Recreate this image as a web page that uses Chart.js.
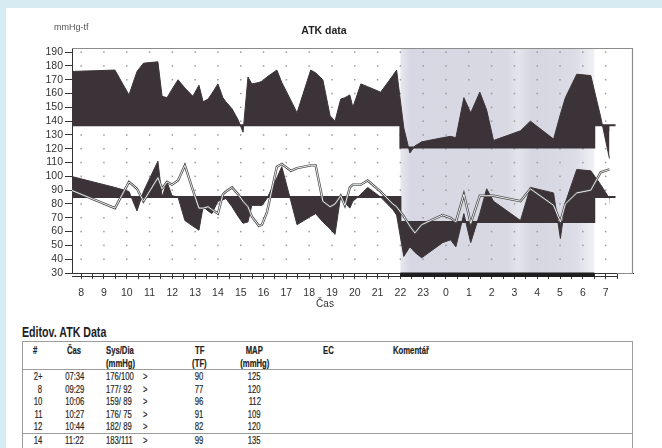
<!DOCTYPE html>
<html lang="cs">
<head>
<meta charset="utf-8">
<title>ATK data</title>
<script src="https://cdn.jsdelivr.net/npm/chart.js@4.4.1/dist/chart.umd.min.js"></script>
<style>
  html, body { margin: 0; padding: 0; }
  body { width: 662px; height: 448px; background: #d7ebf2; position: relative; overflow: hidden; font-family: "Liberation Sans", Arial, sans-serif; }
  #list { position: absolute; left: 6px; top: 8px; right: 0; bottom: 0; background: #fff; }
  #graf { position: absolute; left: 0; top: 0; width: 662px; height: 312px; }
  #nadpis { position: absolute; left: 22px; top: 325px; font: bold 14px/15px "Liberation Sans", Arial, sans-serif; color: #1e1e1e;
            transform: scaleX(0.76); transform-origin: left center; white-space: nowrap; }
  #tab { position: absolute; left: 22px; top: 341px; width: 611px; border-collapse: collapse; table-layout: fixed;
         border: 1px solid #9c9c9c; border-bottom: none; font: 11px "Liberation Sans", Arial, sans-serif; color: #262626;
         -webkit-text-stroke: 0.2px #262626; }
  #tab td, #tab th { padding: 0; height: 12.5px; line-height: 12.5px; white-space: pre; font-weight: normal; }
  #tab thead th { font-weight: bold; color: #222; }
  #tab thead tr:first-child th { padding-top: 2px; }
  #tab thead tr:last-child th { border-bottom: 1px solid #9c9c9c; }
  #tab tr.predel td { border-bottom: 1px solid #9c9c9c; }
  .n { display: inline-block; transform: scaleX(0.7); transform-origin: center; }
  .c1 { text-align: right; padding-right: 4px !important; }
  .c1 .n { transform-origin: right center; }
  .c2, .c5, .c6 { text-align: center; }
  .c3 { text-align: left; padding-left: 3px !important; }
  .c4 { text-align: left; padding-left: 4px !important; }
  .c7 { text-align: left; padding-left: 42px !important; }
  .c8 { text-align: left; padding-left: 24px !important; }
  .c3 .n, .c4 .n, .c7 .n, .c8 .n { transform-origin: left center; }
</style>
</head>
<body>
<div id="list"></div>
<canvas id="graf" width="662" height="312"></canvas>
<div id="nadpis">Editov. ATK Data</div>
<table id="tab">
  <colgroup><col style="width:24px"><col style="width:56px"><col style="width:36px"><col style="width:32px"><col style="width:58px"><col style="width:52px"><col style="width:88px"><col></colgroup>
  <thead>
    <tr><th class="c2"><span class="n">#</span></th><th class="c2"><span class="n">Čas</span></th><th class="c3"><span class="n">Sys/Dia</span></th><th></th><th class="c5"><span class="n">TF</span></th><th class="c6"><span class="n">MAP</span></th><th class="c7"><span class="n">EC</span></th><th class="c8"><span class="n">Komentář</span></th></tr>
    <tr><th></th><th></th><th class="c3"><span class="n">(mmHg)</span></th><th></th><th class="c5"><span class="n">(TF)</span></th><th class="c6"><span class="n">(mmHg)</span></th><th></th><th></th></tr>
  </thead>
  <tbody id="radky"></tbody>
</table>
<script>
  "use strict";
  // měření (čas, systola, diastola, tepová frekvence)
  const casy = ["07:34","09:29","10:06","10:27","10:44","11:22","11:33","11:46","11:59","12:15",
                "12:33","12:54","13:10","13:21","13:34","13:44","14:00","14:13","14:21","14:37",
                "14:53","15:06","15:19","15:29","15:48","15:56","16:09","16:35","16:48","17:12",
                "17:28","18:04","18:17","18:36","18:55","19:08","19:23","19:34","19:47","19:55",
                "20:16","20:34","21:08","21:40","21:50","22:09","22:25","22:38","22:56","23:51",
                "00:12","00:26","00:47","01:05","01:29","01:47","02:05","03:16","03:42","04:43",
                "05:01","05:14","05:44","06:21","06:47","07:10"];
  const sys = [176,177,159,176,182,183,158,157,163,170,
               164,158,166,154,156,160,167,157,154,149,
               141,132,172,167,168,169,172,177,168,155,
               146,177,175,170,144,140,156,157,159,150,
               167,165,161,173,177,135,117,122,125,128,
               129,128,157,146,161,148,126,133,140,127,
               145,157,174,173,143,113];
  const dia = [100,92,89,75,89,111,85,96,86,85,
               68,64,61,78,75,73,82,83,84,78,
               71,66,67,79,79,79,84,99,107,82,
               65,71,73,67,62,58,86,81,77,82,
               87,92,85,76,72,42,49,45,41,52,
               54,49,73,52,73,91,82,68,92,88,
               55,81,105,104,94,84];
  const tf  = [90,77,96,91,82,99,91,96,94,97,
               108,90,77,77,78,76,73,87,89,92,
               87,82,78,71,64,65,74,107,109,104,
               106,108,108,82,78,80,86,79,92,94,
               94,97,89,80,78,71,64,59,65,72,
               70,67,87,66,86,86,86,82,91,79,
               67,80,88,90,103,105];

  // limity den / noc
  const limCasy = ["07:34","22:00","22:00","06:30","06:30","07:26"];
  const limSys  = [137,137,121,121,137,137];
  const limDia  = [85,85,67,67,85,85];
  const noc = ["22:00","06:30"];

  // tabulka (jen první řádky jsou vidět)
  const tabCisla = ["2+","8","10","11","12","14","15"];
  const tabMap = [125,120,112,109,120,135,109];

  const TM = "#3b3337";

  // "HH:MM" -> hodiny, po půlnoci pokračuje +24
  function naHodiny(seznam) {
    let den = 0, pred = -1;
    return seznam.map(t => {
      const [h, m] = t.split(":").map(Number);
      let v = h + m / 60 + den;
      if (v < pred) { den += 24; v += 24; }
      pred = v;
      return v;
    });
  }
  const tH = naHodiny(casy), limH = naHodiny(limCasy), nocH = naHodiny(noc);
  const body = (xs, ys) => xs.map((x, i) => ({ x, y: ys[i] }));

  const dekor = {
    id: "dekor",
    beforeDatasetsDraw(ch) {
      const { ctx, chartArea: a, scales: { x, y } } = ch;
      const n0 = x.getPixelForValue(nocH[0]), n1 = x.getPixelForValue(nocH[1]);
      ctx.save();
      const g = ctx.createLinearGradient(n0, 0, n1, 0);
      g.addColorStop(0, "rgb(232,232,240)");
      g.addColorStop(0.05, "rgb(215,215,227)");
      g.addColorStop(0.55, "rgb(217,217,228)");
      g.addColorStop(0.61, "rgb(228,228,236)");
      g.addColorStop(0.68, "rgb(214,214,226)");
      g.addColorStop(0.9, "rgb(220,220,230)");
      g.addColorStop(1, "rgb(240,240,245)");
      ctx.fillStyle = g;
      ctx.fillRect(n0, a.top, n1 - n0, a.bottom - a.top);
      // tečkovaná mřížka
      ctx.fillStyle = "#9a9a9a";
      x.ticks.forEach(t => {
        if (!Number.isInteger(t.value)) return;
        const px = x.getPixelForValue(t.value);
        y.ticks.forEach(u => {
          if (u.value <= 30) return;
          ctx.fillRect(px - 0.75, y.getPixelForValue(u.value) - 0.75, 1.5, 1.5);
        });
      });
      // rámeček nahoře a vpravo
      ctx.strokeStyle = "#8c8c8c"; ctx.lineWidth = 1.2;
      ctx.beginPath();
      ctx.moveTo(a.left, a.top + 0.5); ctx.lineTo(a.right - 0.5, a.top + 0.5); ctx.lineTo(a.right - 0.5, a.bottom + 0.5);
      ctx.lineTo(x.getPixelForValue(31.5), a.bottom + 0.5);
      ctx.stroke();
      ctx.restore();
    },
    afterDraw(ch) {
      const { ctx, chartArea: a, scales: { x } } = ch;
      const n0 = x.getPixelForValue(nocH[0]), n1 = x.getPixelForValue(nocH[1]);
      ctx.save();
      ctx.strokeStyle = "#333"; ctx.lineWidth = 1;
      ctx.beginPath();
      ctx.moveTo(a.left, a.bottom + 3.5); ctx.lineTo(x.getPixelForValue(31.5), a.bottom + 3.5);
      ctx.stroke();
      ctx.fillStyle = "#1e1e1e";
      ctx.fillRect(n0, a.bottom - 0.5, n1 - n0, 4.5);
      ctx.textBaseline = "middle";
      ctx.fillStyle = "#555";
      ctx.font = "9px 'Liberation Sans', Arial, sans-serif";
      ctx.fillText("mmHg-tf", 54, 28);
      ctx.fillStyle = "#222";
      ctx.textAlign = "center";
      ctx.font = "bold 10.5px 'Liberation Sans', Arial, sans-serif";
      ctx.fillText("ATK data", ch.width / 2 - 7, 31);
      ctx.fillStyle = "#333";
      ctx.font = "10px 'Liberation Sans', Arial, sans-serif";
      ctx.fillText("Čas", ch.width / 2 - 6, 304);
      ctx.restore();
    }
  };

  Chart.defaults.font.family = "'Liberation Sans', Arial, sans-serif";
  new Chart(document.getElementById("graf"), {
    type: "line",
    data: {
      datasets: [
        { label: "TF obrys", data: body(tH, tf), borderColor: "#4a4a4a", borderWidth: 2.4, order: 1 },
        { label: "TF", data: body(tH, tf), borderColor: "#ffffff", borderWidth: 0.9, order: 0 },
        { label: "Sys", data: body(tH, sys), borderColor: TM, borderWidth: 1, backgroundColor: TM, fill: 4, order: 2 },
        { label: "Dia", data: body(tH, dia), borderColor: TM, borderWidth: 1, backgroundColor: TM, fill: 5, order: 3 },
        { label: "Limit sys", data: body(limH, limSys), borderColor: TM, borderWidth: 2, order: 4 },
        { label: "Limit dia", data: body(limH, limDia), borderColor: TM, borderWidth: 2, order: 5 }
      ]
    },
    options: {
      responsive: false, animation: false, events: [],
      layout: { padding: { left: 40, right: 29, top: 48, bottom: 0 } },
      elements: { point: { radius: 0 }, line: { tension: 0 } },
      plugins: { legend: { display: false }, tooltip: { enabled: false } },
      scales: {
        x: {
          type: "linear", min: 7.6, max: 32.2,
          afterBuildTicks: s => { s.ticks = s.ticks.filter(t => t.value <= 31.5); },
          afterFit: s => { s.height = 39; },
          ticks: { stepSize: 0.5, includeBounds: false, autoSkip: false, maxRotation: 0, padding: 8, color: "#333", font: { size: 10.5 },
                   callback: v => Number.isInteger(v) ? String(v % 24) : "" },
          grid: { drawOnChartArea: false, drawTicks: true, tickLength: 6, color: "#333" },
          border: { display: true, color: "#333", width: 1 }
        },
        y: {
          min: 30, max: 193,
          afterFit: s => { s.width = 32; },
          ticks: { stepSize: 10, includeBounds: false, autoSkip: false, padding: 2, color: "#333", font: { size: 10.5 } },
          grid: { drawOnChartArea: false, drawTicks: true, tickLength: 7, color: "#333" },
          border: { display: true, color: "#333", width: 1 }
        }
      }
    },
    plugins: [dekor]
  });

  // řádky tabulky
  const pad3 = n => String(n).padStart(3, " ");
  const bunka = (cls, txt) => `<td class="${cls}"><span class="n">${txt}</span></td>`;
  document.getElementById("radky").innerHTML = tabCisla.map((c, i) =>
    `<tr${i === 4 ? ' class="predel"' : ""}>` + bunka("c1", c) + bunka("c2", casy[i]) +
    bunka("c3", `${sys[i]}/${pad3(dia[i])}`) + bunka("c4", "&gt;") + bunka("c5", tf[i]) +
    bunka("c6", tabMap[i]) + "<td></td><td></td></tr>").join("");
</script>
</body>
</html>
